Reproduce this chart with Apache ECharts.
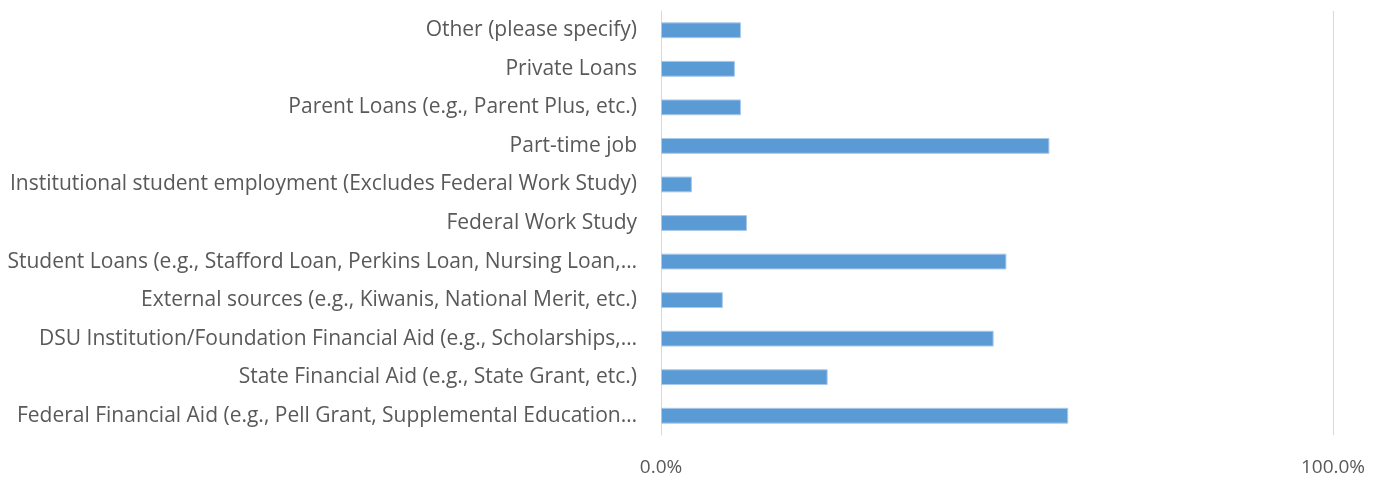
<!DOCTYPE html>
<html>
<head>
<meta charset="utf-8">
<script src="https://cdn.jsdelivr.net/npm/echarts@6/dist/echarts.min.js"></script>
<style>html,body{margin:0;padding:0;background:#fff;}#c{width:1385px;height:477px;}</style>
</head>
<body>
<div id="c"></div>
<script>
const categories = [
  "Federal Financial Aid (e.g., Pell Grant, Supplemental Education…",
  "State Financial Aid (e.g., State Grant, etc.)",
  "DSU Institution/Foundation Financial Aid (e.g., Scholarships,…",
  "External sources (e.g., Kiwanis, National Merit, etc.)",
  "Student Loans (e.g., Stafford Loan, Perkins Loan, Nursing Loan,…",
  "Federal Work Study",
  "Institutional student employment (Excludes Federal Work Study)",
  "Part-time job",
  "Parent Loans (e.g., Parent Plus, etc.)",
  "Private Loans",
  "Other (please specify)"
];
const values = [60.6, 24.8, 49.5, 9.2, 51.4, 12.8, 4.6, 57.8, 11.9, 11.0, 11.9];
const xTicks = [0, 100];

const chart = echarts.init(document.getElementById('c'), null, {renderer: 'canvas'});
chart.setOption({
  animation: false,
  textStyle: {fontFamily: '"Open Sans", sans-serif'},
  grid: {left: 661, right: 52, top: 11, bottom: 42, containLabel: false},
  xAxis: {
    type: 'value', min: xTicks[0], max: xTicks[xTicks.length - 1], interval: 100,
    axisLine: {show: false}, axisTick: {show: false},
    splitLine: {show: true, lineStyle: {color: '#d9d9d9', width: 1}},
    axisLabel: {color: '#595959', fontSize: 19, margin: 23, formatter: v => v.toFixed(1) + '%'}
  },
  yAxis: {
    type: 'category', data: categories,
    axisLine: {show: true, lineStyle: {color: '#d9d9d9', width: 1}},
    axisTick: {show: false},
    axisLabel: {color: '#595959', fontSize: 21, margin: 24, padding: [4, 0, 0, 0]}
  },
  series: [{
    type: 'bar', data: values, barWidth: '41%',
    itemStyle: {color: '#5b9bd5', borderColor: '#a9c9ea', borderWidth: 1}
  }]
});
</script>
</body>
</html>
